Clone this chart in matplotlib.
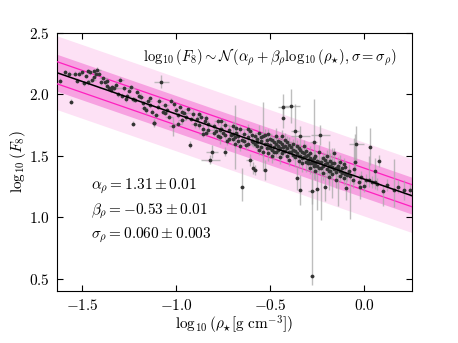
import matplotlib
matplotlib.use("Agg")
import matplotlib.pyplot as plt
import numpy as np

plt.rcParams["font.family"] = "serif"
plt.rcParams["font.serif"] = ["cmr10", "DejaVu Serif"]
plt.rcParams["mathtext.fontset"] = "cm"
plt.rcParams["axes.formatter.use_mathtext"] = True
plt.rcParams["axes.unicode_minus"] = True

# fit result
alpha_rho = 1.31
beta_rho = -0.53
band_inner = 0.09
band_mid = 0.15
band_outer = 0.30

log_rho = [
    # dense-star end
    -1.62, -1.59, -1.57, -1.56, -1.54, -1.53, -1.52, -1.50, -1.49, -1.48,
    -1.47, -1.47, -1.46, -1.45, -1.44, -1.43, -1.42, -1.41, -1.40, -1.39,
    -1.38, -1.37, -1.36, -1.35, -1.34, -1.33, -1.31, -1.30, -1.29, -1.28,
    -1.27, -1.26, -1.25, -1.24, -1.23, -1.23, -1.22, -1.21, -1.20,
    -1.19, -1.18, -1.17, -1.16, -1.15, -1.14, -1.14, -1.13, -1.12, -1.11,
    -1.10, -1.09, -1.08, -1.07, -1.06, -1.05, -1.04, -1.03, -1.02, -1.01,
    -1.00, -0.99, -0.99, -0.98, -0.97, -0.97, -0.96, -0.95, -0.94, -0.93,
    -0.92, -0.91, -0.90, -1.12,
    -0.89, -0.88, -0.88, -0.87, -0.86, -0.86, -0.85, -0.84, -0.84, -0.83,
    -0.82, -0.81, -0.80, -0.80, -0.79, -0.78, -0.78, -0.77, -0.76, -0.76,
    -0.75, -0.74, -0.74, -0.73, -0.72, -0.72, -0.71, -0.70, -0.70, -0.69,
    -0.68, -0.68, -0.67, -0.66, -0.66, -0.65, -0.65, -0.64, -0.64, -0.63,
    -0.62, -0.62, -0.61, -0.61, -0.60, -0.69, -0.83,
    -0.59, -0.59, -0.58, -0.58, -0.57, -0.57, -0.56, -0.56, -0.55, -0.55,
    -0.54, -0.54, -0.53, -0.53, -0.52, -0.52, -0.51, -0.51, -0.50, -0.50,
    -0.49, -0.49, -0.48, -0.48, -0.47, -0.47, -0.46, -0.46, -0.45, -0.45,
    -0.44, -0.44, -0.43, -0.43, -0.43, -0.42, -0.42, -0.41, -0.41, -0.40,
    -0.40, -0.39, -0.39, -0.38, -0.38, -0.37, -0.37, -0.36, -0.36, -0.35,
    -0.35, -0.34, -0.34, -0.34, -0.33, -0.33, -0.32, -0.32, -0.31, -0.31,
    -0.30, -0.30, -0.58, -0.53, -0.47, -0.44, -0.41, -0.36,
    -0.29, -0.29, -0.28, -0.28, -0.28, -0.27, -0.27, -0.26, -0.26, -0.25,
    -0.25, -0.24, -0.24, -0.234, -0.23, -0.22, -0.22, -0.21, -0.21, -0.20,
    -0.20, -0.19, -0.19, -0.18, -0.18, -0.17, -0.17, -0.16, -0.16, -0.15,
    -0.15, -0.14, -0.14, -0.13, -0.13, -0.12, -0.12, -0.11, -0.11, -0.10,
    -0.10, -0.27, -0.24, -0.21, -0.18, -0.16, -0.13, -0.29, -0.26,
    # diffuse end
    -0.096, -0.09, -0.074, -0.06, -0.053, -0.048, -0.043, -0.03, -0.021, 0.00,
    0.01, 0.023, 0.028, 0.04, 0.055, 0.058, 0.076, 0.10, 0.12, 0.156,
    0.18, 0.21, 0.245, -0.08, -0.02, 0.07,
    # crowded middle
    -0.52, -0.50, -0.49, -0.48, -0.46, -0.45, -0.43, -0.42, -0.40, -0.39,
    -0.38, -0.37, -0.35, -0.34, -0.33, -0.32, -0.31, -0.30, -0.29, -0.28,
    -0.27, -0.25, -0.23, -0.22, -0.20, -0.19, -0.17, -0.15, -0.62, -0.60,
    -0.57, -0.55, -0.77, -0.74, -0.70, -0.67, -1.44, -1.37, -1.32, -1.06,
]

log_f8 = [
    2.11, 2.18, 2.17, 1.94, 2.17, 2.11, 2.17, 2.18, 2.09, 2.15,
    2.19, 2.10, 2.18, 2.12, 2.19, 2.17, 2.20, 2.17, 2.10, 2.13,
    2.10, 2.07, 2.05, 2.04, 2.06, 2.05, 2.00, 2.12, 1.99, 2.05,
    1.96, 1.99, 2.03, 2.06, 1.96, 1.76, 1.955, 2.02, 1.99,
    1.98, 1.93, 1.89, 1.87, 1.95, 1.97, 1.91, 1.86, 1.77, 1.83,
    1.90, 1.95, 2.105, 1.86, 1.91, 1.87, 1.82, 1.95, 1.74, 1.92,
    1.87, 1.83, 1.76, 1.90, 1.79, 1.86, 1.85, 1.82, 1.88, 1.59,
    1.80, 1.84, 1.76, 1.766,
    1.80, 1.75, 1.84, 1.82, 1.72, 1.68, 1.78, 1.69, 1.81, 1.76,
    1.47, 1.535, 1.74, 1.69, 1.70, 1.78, 1.66, 1.65, 1.72, 1.78,
    1.69, 1.75, 1.535, 1.62, 1.71, 1.64, 1.67, 1.74, 1.68, 1.60,
    1.69, 1.73, 1.66, 1.72, 1.58, 1.63, 1.25, 1.68, 1.62, 1.59,
    1.65, 1.72, 1.70, 1.467, 1.62, 1.65, 1.71,
    1.40, 1.61, 1.386, 1.66, 1.58, 1.64, 1.55, 1.69, 1.62, 1.57,
    1.66, 1.53, 1.386, 1.60, 1.63, 1.56, 1.68, 1.52, 1.59, 1.64,
    1.55, 1.50, 1.61, 1.57, 1.66, 1.53, 1.58, 1.62, 1.49, 1.56,
    1.60, 1.52, 1.90, 1.81, 1.57, 1.54, 1.63, 1.50, 1.56, 1.59,
    1.47, 1.905, 1.53, 1.55, 1.60, 1.49, 1.70, 1.52, 1.32, 1.56,
    1.46, 1.66, 1.224, 1.50, 1.53, 1.44, 1.58, 1.49, 1.45, 1.54,
    1.47, 1.51, 1.60, 1.67, 1.60, 1.66, 1.61, 1.58,
    1.44, 1.52, 1.21, 0.52, 1.47, 1.61, 1.42, 1.50, 1.38, 1.23,
    1.46, 1.53, 1.40, 1.67, 1.40, 1.48, 1.36, 1.25, 1.43, 1.50,
    1.39, 1.42, 1.33, 1.46, 1.38, 1.41, 1.35, 1.44, 1.52, 1.37,
    1.30, 1.42, 1.39, 1.34, 1.45, 1.36, 1.40, 1.32, 1.43, 1.41,
    1.35, 1.48, 1.45, 1.47, 1.42, 1.39, 1.38, 1.40, 1.44,
    1.24, 1.346, 1.332, 1.30, 1.394, 1.454, 1.595, 1.291, 1.25, 1.256,
    1.30, 1.30, 1.575, 1.29, 1.38, 1.29, 1.46, 1.21, 1.26, 1.224,
    1.25, 1.224, 1.224, 1.38, 1.33, 1.27,
    1.60, 1.56, 1.63, 1.53, 1.55, 1.61, 1.54, 1.58, 1.53, 1.57,
    1.51, 1.54, 1.50, 1.55, 1.48, 1.52, 1.50, 1.44, 1.48, 1.44,
    1.45, 1.42, 1.45, 1.42, 1.44, 1.38, 1.44, 1.40, 1.60, 1.67,
    1.61, 1.65, 1.71, 1.67, 1.64, 1.62, 2.14, 2.11, 2.08, 1.85,
]

log_rho_err = [
    0.01, 0.01, 0.02, 0.01, 0.01, 0.01, 0.02, 0.01, 0.02, 0.01,
    0.01, 0.02, 0.01, 0.02, 0.01, 0.01, 0.02, 0.01, 0.01, 0.02,
    0.01, 0.01, 0.05, 0.01, 0.02, 0.01, 0.01, 0.02, 0.01, 0.06,
    0.01, 0.02, 0.01, 0.01, 0.01, 0.01, 0.02, 0.01, 0.01,
    0.02, 0.01, 0.02, 0.01, 0.02, 0.01, 0.02, 0.01, 0.01, 0.02,
    0.01, 0.02, 0.04, 0.01, 0.02, 0.01, 0.02, 0.01, 0.02, 0.01,
    0.02, 0.01, 0.02, 0.01, 0.02, 0.01, 0.06, 0.01, 0.02, 0.01,
    0.02, 0.01, 0.02, 0.01,
    0.01, 0.02, 0.01, 0.02, 0.01, 0.02, 0.01, 0.02, 0.01, 0.02,
    0.05, 0.03, 0.01, 0.02, 0.01, 0.02, 0.01, 0.02, 0.01, 0.02,
    0.01, 0.02, 0.01, 0.02, 0.01, 0.02, 0.01, 0.02, 0.01, 0.02,
    0.01, 0.02, 0.01, 0.02, 0.01, 0.02, 0.01, 0.02, 0.01, 0.02,
    0.01, 0.02, 0.01, 0.02, 0.01, 0.01, 0.04,
    0.01, 0.02, 0.01, 0.01, 0.02, 0.01, 0.01, 0.02, 0.01, 0.01,
    0.02, 0.01, 0.01, 0.02, 0.01, 0.01, 0.02, 0.01, 0.01, 0.02,
    0.01, 0.01, 0.02, 0.01, 0.01, 0.02, 0.01, 0.01, 0.02, 0.01,
    0.01, 0.02, 0.03, 0.01, 0.01, 0.02, 0.01, 0.01, 0.02, 0.01,
    0.01, 0.05, 0.01, 0.02, 0.01, 0.01, 0.02, 0.01, 0.01, 0.02,
    0.01, 0.05, 0.01, 0.01, 0.02, 0.01, 0.01, 0.02, 0.01, 0.01,
    0.02, 0.01, 0.03, 0.01, 0.01, 0.01, 0.02, 0.01,
    0.01, 0.01, 0.02, 0.01, 0.01, 0.02, 0.01, 0.01, 0.02, 0.01,
    0.01, 0.01, 0.02, 0.05, 0.01, 0.01, 0.02, 0.01, 0.01, 0.02,
    0.01, 0.01, 0.02, 0.01, 0.01, 0.01, 0.02, 0.01, 0.01, 0.02,
    0.01, 0.01, 0.01, 0.02, 0.01, 0.01, 0.02, 0.01, 0.01, 0.01,
    0.02, 0.02, 0.02, 0.02, 0.02, 0.02, 0.02, 0.01, 0.01,
    0.01, 0.01, 0.01, 0.01, 0.01, 0.01, 0.04, 0.01, 0.01, 0.01,
    0.01, 0.02, 0.01, 0.01, 0.01, 0.01, 0.01, 0.01, 0.01, 0.01,
    0.01, 0.01, 0.01, 0.01, 0.01, 0.02,
    0.01, 0.01, 0.01, 0.01, 0.01, 0.01, 0.01, 0.01, 0.01, 0.01,
    0.01, 0.01, 0.01, 0.01, 0.01, 0.01, 0.01, 0.01, 0.01, 0.01,
    0.01, 0.01, 0.01, 0.01, 0.01, 0.01, 0.01, 0.01, 0.01, 0.01,
    0.01, 0.01, 0.01, 0.01, 0.01, 0.01, 0.01, 0.01, 0.01, 0.01,
]

log_f8_err_lo = [
    0.02, 0.02, 0.02, 0.02, 0.02, 0.02, 0.02, 0.02, 0.02, 0.02,
    0.02, 0.02, 0.02, 0.02, 0.02, 0.02, 0.02, 0.02, 0.02, 0.02,
    0.02, 0.02, 0.02, 0.02, 0.02, 0.02, 0.02, 0.02, 0.02, 0.02,
    0.02, 0.02, 0.02, 0.02, 0.02, 0.02, 0.02, 0.02, 0.03,
    0.03, 0.02, 0.02, 0.03, 0.02, 0.02, 0.02, 0.02, 0.03, 0.02,
    0.02, 0.03, 0.05, 0.02, 0.02, 0.03, 0.02, 0.02, 0.08, 0.02,
    0.03, 0.02, 0.02, 0.02, 0.03, 0.02, 0.02, 0.03, 0.02, 0.03,
    0.02, 0.04, 0.03, 0.03,
    0.03, 0.03, 0.02, 0.03, 0.04, 0.03, 0.02, 0.03, 0.02, 0.03,
    0.04, 0.05, 0.03, 0.03, 0.04, 0.03, 0.03, 0.05, 0.03, 0.03,
    0.04, 0.03, 0.04, 0.03, 0.04, 0.03, 0.03, 0.04, 0.03, 0.04,
    0.03, 0.03, 0.04, 0.03, 0.04, 0.03, 0.12, 0.04, 0.03, 0.04,
    0.03, 0.04, 0.03, 0.05, 0.04, 0.26, 0.03,
    0.05, 0.04, 0.04, 0.03, 0.05, 0.04, 0.04, 0.06, 0.04, 0.05,
    0.28, 0.04, 0.08, 0.04, 0.05, 0.04, 0.04, 0.06, 0.04, 0.05,
    0.04, 0.06, 0.04, 0.05, 0.07, 0.04, 0.05, 0.04, 0.06, 0.04,
    0.05, 0.04, 0.10, 0.08, 0.05, 0.04, 0.06, 0.05, 0.04, 0.06,
    0.05, 0.14, 0.04, 0.06, 0.04, 0.08, 0.22, 0.05, 0.10, 0.04,
    0.06, 0.08, 0.12, 0.05, 0.04, 0.07, 0.05, 0.04, 0.08, 0.06,
    0.05, 0.04, 0.04, 0.05, 0.05, 0.05, 0.05, 0.05,
    0.05, 0.06, 0.10, 0.07, 0.05, 0.30, 0.06, 0.05, 0.08, 0.17,
    0.05, 0.06, 0.05, 0.08, 0.42, 0.05, 0.06, 0.12, 0.05, 0.05,
    0.06, 0.20, 0.05, 0.06, 0.05, 0.25, 0.05, 0.06, 0.04, 0.05,
    0.06, 0.05, 0.30, 0.05, 0.06, 0.05, 0.04, 0.06, 0.05, 0.05,
    0.04, 0.06, 0.04, 0.05, 0.05, 0.04, 0.05, 0.05, 0.05,
    0.10, 0.05, 0.35, 0.06, 0.12, 0.10, 0.15, 0.06, 0.10, 0.05,
    0.05, 0.05, 0.15, 0.05, 0.10, 0.06, 0.05, 0.12, 0.05, 0.14,
    0.05, 0.08, 0.05, 0.05, 0.05, 0.05,
    0.04, 0.05, 0.04, 0.06, 0.04, 0.05, 0.04, 0.05, 0.04, 0.05,
    0.04, 0.06, 0.04, 0.05, 0.04, 0.05, 0.04, 0.06, 0.04, 0.05,
    0.04, 0.05, 0.04, 0.05, 0.04, 0.05, 0.04, 0.05, 0.04, 0.04,
    0.04, 0.04, 0.03, 0.03, 0.03, 0.03, 0.02, 0.02, 0.02, 0.02,
]

log_f8_err_hi = [
    0.02, 0.02, 0.02, 0.02, 0.02, 0.02, 0.02, 0.02, 0.02, 0.02,
    0.02, 0.02, 0.02, 0.02, 0.02, 0.02, 0.02, 0.02, 0.02, 0.02,
    0.02, 0.02, 0.02, 0.02, 0.02, 0.02, 0.02, 0.02, 0.02, 0.02,
    0.02, 0.02, 0.02, 0.02, 0.02, 0.02, 0.02, 0.02, 0.03,
    0.03, 0.02, 0.02, 0.03, 0.02, 0.02, 0.02, 0.02, 0.03, 0.02,
    0.02, 0.03, 0.05, 0.02, 0.02, 0.03, 0.02, 0.02, 0.08, 0.02,
    0.03, 0.02, 0.02, 0.02, 0.03, 0.02, 0.02, 0.03, 0.02, 0.03,
    0.02, 0.04, 0.03, 0.03,
    0.03, 0.03, 0.02, 0.03, 0.04, 0.03, 0.02, 0.03, 0.02, 0.03,
    0.04, 0.05, 0.03, 0.03, 0.04, 0.03, 0.03, 0.05, 0.03, 0.03,
    0.04, 0.03, 0.04, 0.03, 0.04, 0.03, 0.03, 0.04, 0.03, 0.04,
    0.03, 0.03, 0.04, 0.03, 0.04, 0.03, 0.15, 0.04, 0.03, 0.04,
    0.03, 0.04, 0.03, 0.05, 0.04, 0.26, 0.03,
    0.05, 0.04, 0.04, 0.03, 0.05, 0.04, 0.04, 0.06, 0.04, 0.05,
    0.28, 0.04, 0.08, 0.04, 0.05, 0.04, 0.04, 0.06, 0.04, 0.05,
    0.04, 0.06, 0.04, 0.05, 0.07, 0.04, 0.05, 0.04, 0.06, 0.04,
    0.05, 0.04, 0.10, 0.08, 0.05, 0.04, 0.06, 0.05, 0.04, 0.06,
    0.05, 0.14, 0.04, 0.06, 0.04, 0.08, 0.22, 0.05, 0.10, 0.04,
    0.06, 0.08, 0.12, 0.05, 0.04, 0.07, 0.05, 0.04, 0.08, 0.06,
    0.05, 0.04, 0.04, 0.05, 0.05, 0.05, 0.05, 0.05,
    0.05, 0.06, 0.10, 0.95, 0.05, 0.35, 0.06, 0.05, 0.08, 0.17,
    0.05, 0.06, 0.05, 0.08, 0.10, 0.05, 0.06, 0.12, 0.05, 0.05,
    0.06, 0.20, 0.05, 0.06, 0.05, 0.15, 0.05, 0.06, 0.04, 0.05,
    0.06, 0.05, 0.10, 0.05, 0.06, 0.05, 0.04, 0.06, 0.05, 0.05,
    0.04, 0.06, 0.04, 0.05, 0.05, 0.04, 0.05, 0.05, 0.05,
    0.10, 0.05, 0.05, 0.06, 0.25, 0.22, 0.15, 0.06, 0.05, 0.05,
    0.05, 0.20, 0.15, 0.05, 0.10, 0.06, 0.05, 0.05, 0.05, 0.25,
    0.05, 0.08, 0.05, 0.05, 0.05, 0.05,
    0.04, 0.05, 0.04, 0.06, 0.04, 0.05, 0.04, 0.05, 0.04, 0.05,
    0.04, 0.06, 0.04, 0.05, 0.04, 0.05, 0.04, 0.06, 0.04, 0.05,
    0.04, 0.05, 0.04, 0.05, 0.04, 0.05, 0.04, 0.05, 0.04, 0.04,
    0.04, 0.04, 0.03, 0.03, 0.03, 0.03, 0.02, 0.02, 0.02, 0.02,
]

xlim = (-1.635, 0.255)
ylim = (0.40, 2.50)

fig = plt.figure(figsize=(4.58, 3.43), dpi=100)
ax = fig.add_axes([0.1245, 0.1516, 0.7755, 0.7522])

xs = np.array([xlim[0] - 0.1, xlim[1] + 0.1])
mu = alpha_rho + beta_rho * xs
ax.fill_between(xs, mu - band_outer, mu + band_outer, color="#fde1f5", lw=0, zorder=1)
ax.fill_between(xs, mu - band_mid, mu + band_mid, color="#f7a2e1", lw=0, zorder=2)
ax.plot(xs, mu - band_inner, color="#ff1fbf", lw=0.9, zorder=3)
ax.plot(xs, mu + band_inner, color="#ff1fbf", lw=0.9, zorder=3)

ax.errorbar(log_rho, log_f8, xerr=log_rho_err,
            yerr=[log_f8_err_lo, log_f8_err_hi],
            fmt="none", ecolor="#a8a8a8", elinewidth=1.0, alpha=0.75,
            capsize=0, zorder=4)
ax.plot(log_rho, log_f8, "o", color="#333333", ms=2.7, mew=0, zorder=5)
ax.plot(xs, mu, color="black", lw=1.1, zorder=6)

ax.set_xlim(*xlim)
ax.set_ylim(*ylim)
ax.set_xticks([-1.5, -1.0, -0.5, 0.0])
ax.set_yticks([0.5, 1.0, 1.5, 2.0, 2.5])
ax.tick_params(direction="in", top=True, right=True, length=4,
               labelsize=11, pad=5)

ax.set_xlabel(r"$\log_{10}(\rho_{\star}[\mathrm{g\ cm^{-3}}])$", fontsize=11, labelpad=0.5)
ax.set_ylabel(r"$\log_{10}(F_8)$", fontsize=11, labelpad=1)

ax.text(0.955, 0.907,
        r"$\log_{10}(F_8) \sim \mathcal{N}\,(\alpha_\rho + \beta_\rho\log_{10}(\rho_{\star}), \sigma = \sigma_\rho)$",
        transform=ax.transAxes, ha="right", va="center", fontsize=10.5)
ax.text(0.095, 0.405, r"$\alpha_\rho = 1.31 \pm 0.01$", transform=ax.transAxes,
        va="center", fontsize=11)
ax.text(0.095, 0.31, r"$\beta_\rho = -0.53 \pm 0.01$", transform=ax.transAxes,
        va="center", fontsize=11)
ax.text(0.095, 0.215, r"$\sigma_\rho = 0.060 \pm 0.003$", transform=ax.transAxes,
        va="center", fontsize=11)

fig.savefig("out.png", dpi=100)
